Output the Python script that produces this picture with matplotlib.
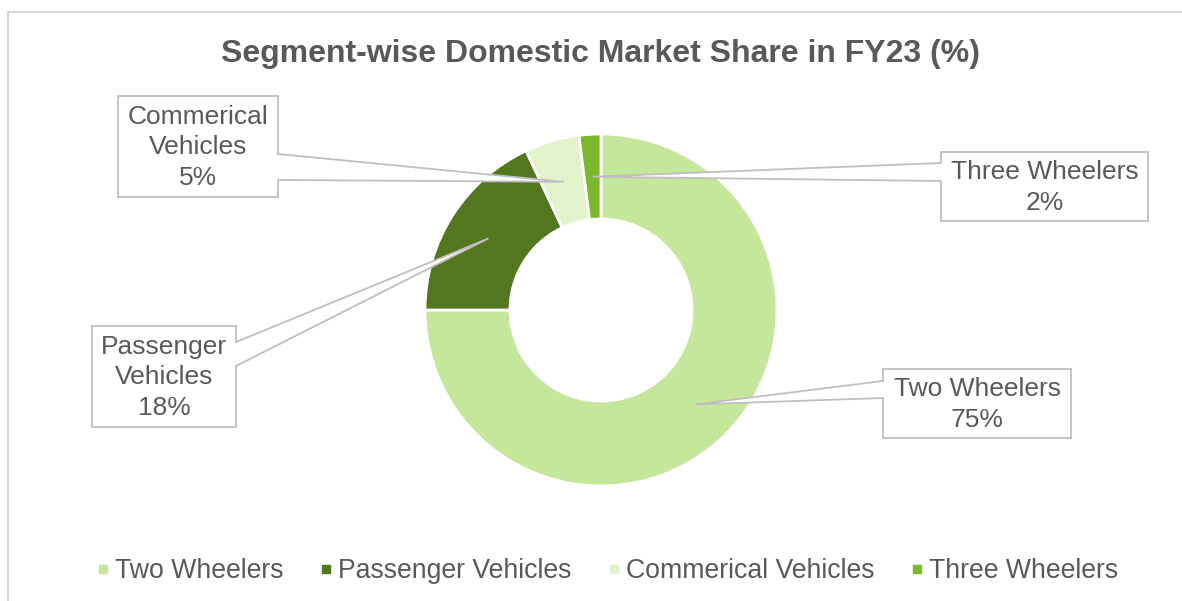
import matplotlib.pyplot as plt
from matplotlib.patches import Polygon, Rectangle
from matplotlib.lines import Line2D
import numpy as np

plt.rcParams['font.family'] = ['Liberation Sans', 'DejaVu Sans']

SEGMENTS = ['Two Wheelers', 'Passenger Vehicles', 'Commerical Vehicles', 'Three Wheelers']
SHARES = [75, 18, 5, 2]
COLORS = ['#c5e79b', '#52771e', '#e2f2cb', '#7ab92c']
CALLOUT_TEXT = ['Two Wheelers\n75%', 'Passenger\nVehicles\n18%',
                'Commerical\nVehicles\n5%', 'Three Wheelers\n2%']

TEXT_COLOR = '#595959'
LINE_COLOR = '#bfbfbf'

W, H = 1182, 601
CENTER = (601, H - 310)
R_OUT = 176
R_IN = 91

# callout boxes in pixels from the top-left: left, top, right, bottom,
# side the pointer leaves from, and where it leaves that side
BOXES = [
    (883, 369, 1071, 438, 'left', 381, 398),
    (92, 326, 236, 427, 'right', 342, 366),
    (118, 96, 278, 197, 'right', 154, 180),
    (941, 152, 1148, 221, 'left', 163, 181),
]


def callout_outline(box, anchor):
    l, t, r, b, side, p1, p2 = box
    if side == 'right':
        pts = [(l, t), (r, t), (r, p1), None, (r, p2), (r, b), (l, b)]
    else:
        pts = [(l, t), (r, t), (r, b), (l, b), (l, p2), None, (l, p1)]
    return [anchor if p is None else (p[0], H - p[1]) for p in pts]


def main():
    fig = plt.figure(figsize=(W / 100, H / 100), dpi=100)
    ax = fig.add_axes([0, 0, 1, 1])

    wedges, _ = ax.pie(SHARES, colors=COLORS, startangle=90, counterclock=False,
                       center=CENTER, radius=R_OUT,
                       wedgeprops=dict(width=R_OUT - R_IN, edgecolor='white', linewidth=2))
    ax.set_xlim(0, W)
    ax.set_ylim(0, H)
    ax.set_aspect('auto')
    ax.axis('off')

    r_mid = (R_OUT + R_IN) / 2
    for wedge, box, label in zip(wedges, BOXES, CALLOUT_TEXT):
        ang = np.deg2rad((wedge.theta1 + wedge.theta2) / 2)
        anchor = (CENTER[0] + r_mid * np.cos(ang), CENTER[1] + r_mid * np.sin(ang))
        ax.add_patch(Polygon(callout_outline(box, anchor), closed=True,
                             facecolor='white', edgecolor=LINE_COLOR, linewidth=1.3, zorder=5))
        l, t, r, b = box[:4]
        ax.text((l + r) / 2, H - (t + b) / 2 - 1, label, ha='center', va='center',
                fontsize=19, color=TEXT_COLOR, linespacing=1.35, zorder=6)

    # chart area border
    ax.add_patch(Rectangle((8, -20), W + 20, H - 12 + 20, fill=False,
                           edgecolor='#d9d9d9', linewidth=1.5, clip_on=False))

    fig.text(0.5 + 10 / W, 1 - 54 / H, 'Segment-wise Domestic Market Share in FY23 (%)',
             ha='center', va='center', fontsize=23, fontweight='bold', color=TEXT_COLOR)

    handles = [Line2D([], [], marker='s', linestyle='', markersize=6, color=c) for c in COLORS]
    fig.legend(handles, SEGMENTS, loc='center', bbox_to_anchor=(0.5 + 17 / W, 1 - 571 / H),
               ncol=4, frameon=False, fontsize=19.2, handlelength=0.4, handletextpad=0.25,
               columnspacing=1.4, labelcolor=TEXT_COLOR)

    fig.savefig('out.png', dpi=100)


if __name__ == '__main__':
    main()
